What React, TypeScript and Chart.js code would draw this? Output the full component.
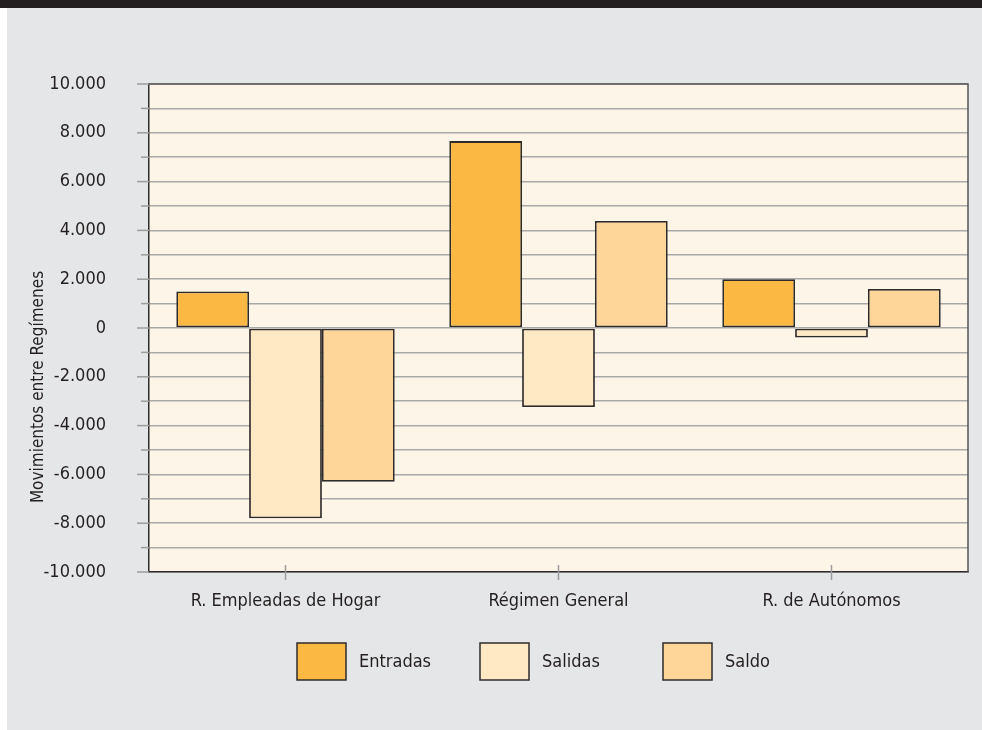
import React, { useEffect, useRef } from "react";
import { Chart, registerables } from "chart.js";

Chart.register(...registerables);

const categories = ["R. Empleadas de Hogar", "Régimen General", "R. de Autónomos"];
const entradas = [1500, 7660, 2000];
const salidas = [-7800, -3240, -390];
const saldo = [-6300, 4390, 1600];
const seriesNames = ["Entradas", "Salidas", "Saldo"];
const seriesColors = ["#fbb843", "#ffe8c4", "#ffd699"];
const yTitle = "Movimientos entre Regímenes";
const yMin = -10000;
const yMax = 10000;

const FONT = '"Liberation Sans Narrow", "DejaVu Sans Condensed", "Roboto Condensed", sans-serif';
const TEXT = "#231f20";
const DARK = "#2e2b2b";
const GRIDC = "#a9a9a9";

function fmt(v: number): string {
  const s = Math.abs(v).toString().replace(/\B(?=(\d{3})+(?!\d))/g, ".");
  return (v < 0 ? "-" : "") + s;
}

const decor = {
  id: "decor",
  beforeDraw(chart: any) {
    const { ctx, chartArea: a } = chart;
    ctx.save();
    ctx.fillStyle = "#fdf5e8";
    ctx.fillRect(a.left, a.top, a.right - a.left, a.bottom - a.top);
    ctx.restore();
  },
  afterDatasetsDraw(chart: any) {
    const { ctx, chartArea: a, scales } = chart;
    ctx.save();
    ctx.strokeStyle = "#555";
    ctx.lineWidth = 1.5;
    ctx.beginPath();
    ctx.moveTo(a.left, a.top);
    ctx.lineTo(a.right, a.top);
    ctx.lineTo(a.right, a.bottom);
    ctx.stroke();
    ctx.strokeStyle = "#9c9c9c";
    for (let v = yMin; v <= yMax; v += 1000) {
      const y = scales.y.getPixelForValue(v);
      const len = v % 2000 === 0 ? 12 : 8;
      ctx.beginPath();
      ctx.moveTo(a.left - len, y);
      ctx.lineTo(a.left, y);
      ctx.stroke();
    }
    for (let i = 0; i < categories.length; i++) {
      const x = scales.x.getPixelForValue(i);
      ctx.beginPath();
      ctx.moveTo(x, a.bottom - 7);
      ctx.lineTo(x, a.bottom + 8);
      ctx.stroke();
    }
    ctx.restore();
  },
  afterDraw(chart: any) {
    const { ctx, chartArea: a } = chart;
    ctx.save();
    ctx.fillStyle = TEXT;
    ctx.font = `17px ${FONT}`;
    ctx.translate(32, 379);
    ctx.rotate(-Math.PI / 2);
    ctx.textAlign = "center";
    ctx.textBaseline = "middle";
    ctx.fillText(yTitle, 0, 0);
    ctx.restore();
    ctx.save();
    ctx.font = `18px ${FONT}`;
    ctx.textBaseline = "middle";
    ctx.textAlign = "left";
    chart.data.datasets.forEach((ds: any, i: number) => {
      const bx = a.left + 148 + i * 183;
      const by = 635;
      ctx.fillStyle = ds.backgroundColor;
      ctx.fillRect(bx, by, 49, 37);
      ctx.strokeStyle = DARK;
      ctx.lineWidth = 1.5;
      ctx.strokeRect(bx, by, 49, 37);
      ctx.fillStyle = TEXT;
      ctx.fillText(ds.label, bx + 62, by + 19);
    });
    ctx.restore();
  },
};

export default function App() {
  const ref = useRef<HTMLCanvasElement>(null);
  useEffect(() => {
    const seriesData = [entradas, salidas, saldo];
    const chart = new Chart(ref.current as HTMLCanvasElement, {
      type: "bar",
      data: {
        labels: categories,
        datasets: seriesNames.map((n, i) => ({
          label: n,
          data: seriesData[i],
          backgroundColor: seriesColors[i],
          borderColor: DARK,
          borderWidth: 1.8,
          borderSkipped: false,
          categoryPercentage: 0.8,
          barPercentage: 1.0,
        })),
      },
      options: {
        animation: false,
        responsive: false,
        layout: { padding: { top: 76, right: 14, left: 0, bottom: 0 } },
        plugins: { legend: { display: false }, tooltip: { enabled: false }, title: { display: false } },
        scales: {
          x: {
            grid: { display: false, offset: false },
            border: { display: true, color: DARK, width: 1.5 },
            ticks: { color: TEXT, font: { family: FONT, size: 18 }, padding: 11, maxRotation: 0 },
            afterFit(scale: any) {
              scale.height = 158;
            },
          },
          y: {
            min: yMin,
            max: yMax,
            grid: { color: GRIDC, lineWidth: 1.5, drawTicks: false },
            border: { display: true, color: DARK, width: 1.5 },
            ticks: {
              stepSize: 1000,
              autoSkip: false,
              padding: 43,
              color: TEXT,
              font: { family: FONT, size: 18 },
              callback: (v: any) => (Number(v) % 2000 === 0 ? fmt(Number(v)) : ""),
            },
            afterFit(scale: any) {
              scale.width = 142;
            },
          },
        },
      },
      plugins: [decor],
    });
    return () => chart.destroy();
  }, []);

  return (
    <div style={{ position: "fixed", left: 0, top: 0, width: 982, height: 730, background: "#fff", overflow: "hidden" }}>
      <div style={{ position: "absolute", left: 0, top: 0, width: 982, height: 8, background: "#231f20" }} />
      <div style={{ position: "absolute", left: 7, top: 8, width: 975, height: 722, background: "#e5e6e7" }}>
        <canvas ref={ref} width={975} height={722} style={{ display: "block" }} />
      </div>
    </div>
  );
}
